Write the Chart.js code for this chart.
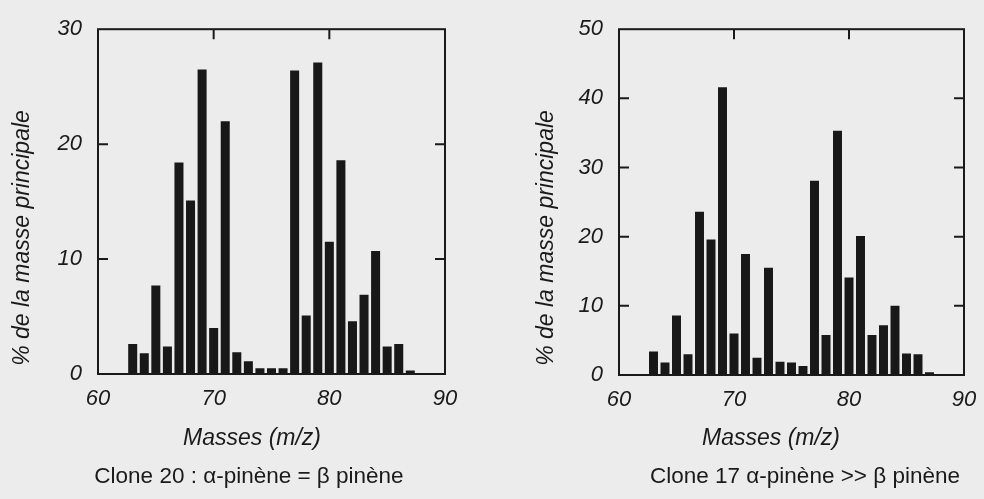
<!DOCTYPE html>
<html><head><meta charset="utf-8">
<script src="https://cdn.jsdelivr.net/npm/chart.js@4"></script>
<style>
html,body{margin:0;padding:0;background:#ececec;width:984px;height:499px;overflow:hidden;font-family:'Liberation Sans',Arial,sans-serif;color:#1a1a1a}
canvas{position:absolute;top:0}
.t{position:absolute;white-space:nowrap;line-height:30px;height:30px;text-align:center;width:400px}
.ax{font-style:italic;font-size:23px}
.cap{font-size:22.5px}
.yt{transform:rotate(-90deg)}
</style></head><body>
<canvas id="c1" width="492" height="499" style="left:0"></canvas>
<canvas id="c2" width="500" height="499" style="left:492px"></canvas>
<div class="t ax yt" style="left:-179px;top:223px">% de la masse principale</div>
<div class="t ax yt" style="left:345px;top:223px">% de la masse principale</div>
<div class="t ax" style="left:52px;top:422px">Masses (m/z)</div>
<div class="t ax" style="left:571px;top:422px">Masses (m/z)</div>
<div class="t cap" style="left:49px;top:461px">Clone 20 : α-pinène = β pinène</div>
<div class="t cap" style="left:605px;top:461px">Clone 17 α-pinène &gt;&gt; β pinène</div>
<script>
const masses = [63,64,65,66,67,68,69,70,71,72,73,74,75,76,77,78,79,80,81,82,83,84,85,86,87];
const clone20 = [2.6,1.8,7.7,2.4,18.4,15.1,26.5,4.0,22.0,1.9,1.1,0.5,0.5,0.5,26.4,5.1,27.1,11.5,18.6,4.6,6.9,10.7,2.4,2.6,0.3];
const clone17 = [3.4,1.8,8.6,3.0,23.6,19.6,41.6,6.0,17.5,2.5,15.5,1.9,1.8,1.3,28.1,5.8,35.3,14.1,20.1,5.8,7.2,10.0,3.1,3.0,0.4];
const xTicks = [60,70,80,90];
const yMax20 = 30, yMax17 = 50;

const INK = '#1a1a1a';
const framePlugin = {
  id: 'frame',
  beforeDatasetsDraw(chart) {
    const {ctx, chartArea: a, scales} = chart;
    ctx.save();
    ctx.strokeStyle = INK; ctx.lineWidth = 2;
    ctx.beginPath();
    scales.y.ticks.forEach(t => {
      if (t.value <= scales.y.min || t.value >= scales.y.max) return;
      const y = scales.y.getPixelForValue(t.value);
      ctx.moveTo(a.left, y); ctx.lineTo(a.left + 10, y);
      ctx.moveTo(a.right, y); ctx.lineTo(a.right - 10, y);
    });
    scales.x.ticks.forEach(t => {
      if (t.value <= scales.x.min || t.value >= scales.x.max) return;
      const x = scales.x.getPixelForValue(t.value);
      ctx.moveTo(x, a.top); ctx.lineTo(x, a.top + 10);
      ctx.moveTo(x, a.bottom); ctx.lineTo(x, a.bottom - 10);
    });
    ctx.stroke();
    ctx.restore();
  },
  afterDatasetsDraw(chart) {
    const {ctx, chartArea: a} = chart;
    ctx.save();
    ctx.strokeStyle = INK; ctx.lineWidth = 2;
    ctx.strokeRect(a.left, a.top, a.right - a.left, a.bottom - a.top);
    ctx.restore();
  }
};

function make(id, values, ymax, yAxisW, padRight, padBottom) {
  const tickFont = {family: "'Liberation Sans', Arial, sans-serif", size: 22, style: 'italic'};
  return new Chart(document.getElementById(id), {
    type: 'bar',
    data: {
      datasets: [{
        data: masses.map((m, i) => ({x: m, y: values[i]})),
        backgroundColor: '#181818',
        borderWidth: 0,
        barPercentage: 0.78,
        categoryPercentage: 1
      }]
    },
    options: {
      responsive: false,
      animation: false,
      devicePixelRatio: 1,
      layout: {padding: {top: 28, right: padRight, bottom: padBottom, left: 0}},
      plugins: {legend: {display: false}, tooltip: {enabled: false}, title: {display: false}},
      scales: {
        x: {
          type: 'linear', min: xTicks[0], max: xTicks[xTicks.length - 1],
          offset: false,
          grid: {display: false, offset: false, drawTicks: false},
          border: {display: false},
          afterBuildTicks: s => { s.ticks = xTicks.map(v => ({value: v})); },
          ticks: {font: tickFont, color: INK, padding: 12, maxRotation: 0, autoSkip: false},
          afterFit: s => { s.height = 40; }
        },
        y: {
          min: 0, max: ymax,
          grid: {display: false, drawTicks: false},
          border: {display: false},
          ticks: {stepSize: 10, font: tickFont, color: INK, padding: 16},
          afterFit: s => { s.width = yAxisW; }
        }
      }
    },
    plugins: [framePlugin]
  });
}

make('c1', clone20, yMax20, 98, 47, 85);
make('c2', clone17, yMax17, 127, 28, 84);
</script>
</body></html>
